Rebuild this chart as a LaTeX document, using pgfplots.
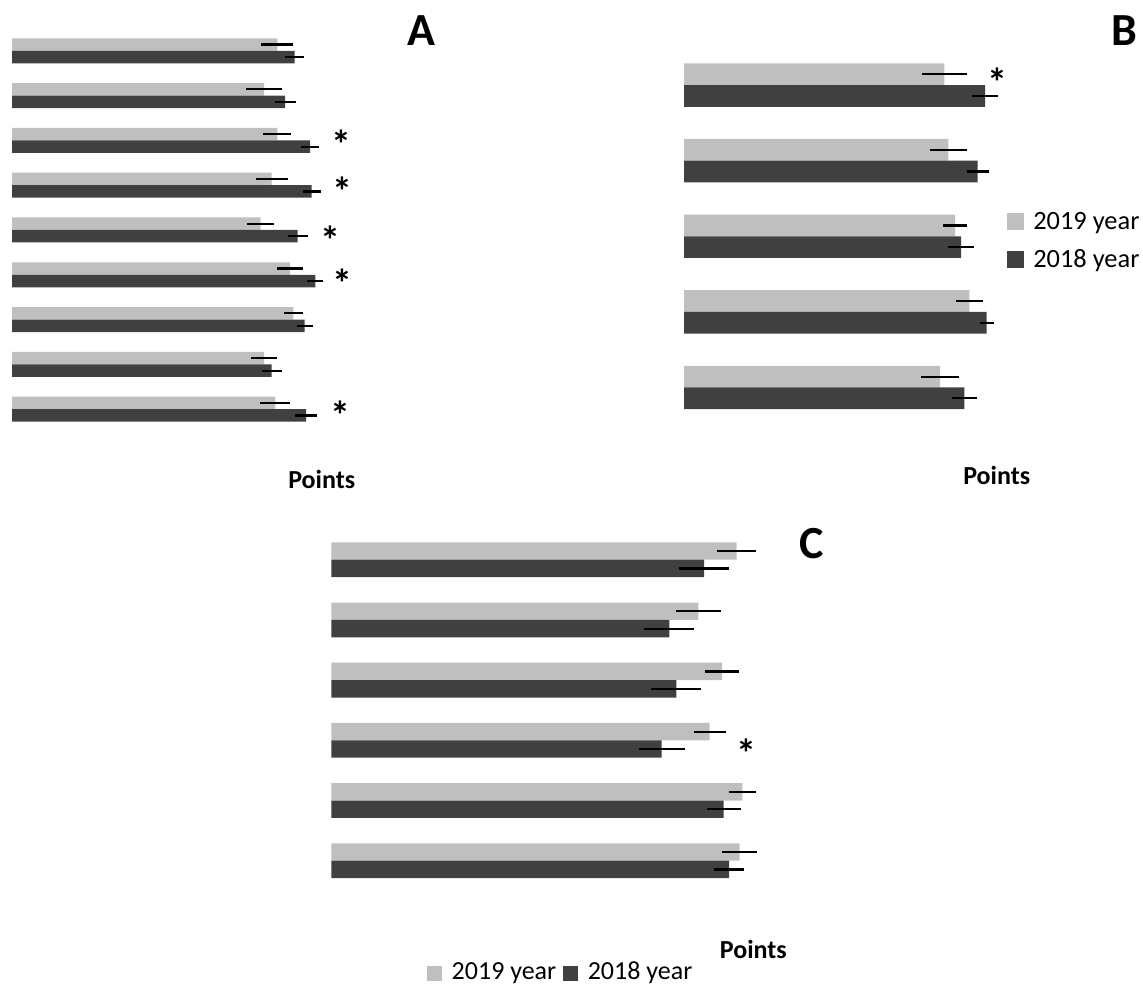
\documentclass[border=0pt]{standalone}
\usepackage{pgfplots}
\pgfplotsset{compat=1.18}
\usepackage{fontspec}
\setmainfont{Carlito}
\definecolor{lightbar}{HTML}{BFBFBF}
\definecolor{darkbar}{HTML}{404040}
\newcommand{\lab}{\fontsize{13}{15.6}\selectfont}
\newcommand{\labB}{\fontsize{13.2}{16}\selectfont}
\newcommand{\astfont}{\fontsize{20}{24}\selectfont\bfseries}
\newcommand{\panellet}{\fontsize{23}{27}\selectfont\bfseries}
\pgfplotsset{
  common/.style={x=0.5pt, y=0.5pt, y dir=reverse, hide axis, clip=false, scale only axis, anchor=north west, xmin=0},
  lb/.style={xbar, bar shift=0pt, fill=lightbar, draw=none,
    error bars/x dir=both, error bars/x explicit, error bars/error mark=none,
    error bars/error bar style={line width=1.1pt, black}},
  db/.style={xbar, bar shift=0pt, fill=darkbar, draw=none,
    error bars/x dir=both, error bars/x explicit, error bars/error mark=none,
    error bars/error bar style={line width=1.1pt, black}},
}
\begin{document}
\begin{tikzpicture}
\useasboundingbox (0,0) rectangle (571.5pt,-492.5pt);
% ---------------- Panel A ----------------
\begin{axis}[common, at={(6pt,-15pt)}, xmax=440, ymin=30, ymax=500, bar width=6.25pt]
\addplot[lb] coordinates {
 (265.3,44.5) +- (16,0)
 (252.0,89.3) +- (18,0)
 (265.3,134.1) +- (14,0)
 (259.7,178.9) +- (16,0)
 (248.7,223.7) +- (13.7,0)
 (278.0,268.5) +- (13,0)
 (281.3,313.3) +- (9.5,0)
 (252.0,358.1) +- (13,0)
 (263.3,402.9) +- (15,0)
};
\addplot[db] coordinates {
 (282.7,57.0) +- (9.3,0)
 (273.0,101.8) +- (10.5,0)
 (298.0,146.6) +- (9,0)
 (299.7,191.4) +- (9,0)
 (285.7,236.2) +- (10,0)
 (303.3,281.0) +- (8,0)
 (292.7,325.8) +- (8,0)
 (259.7,370.6) +- (10,0)
 (294.0,415.4) +- (10.7,0)
};
\node[anchor=base, inner sep=0pt, font=\astfont] at (axis cs:329.7,158.3) {*};
\node[anchor=base, inner sep=0pt, font=\astfont] at (axis cs:330.7,205.9) {*};
\node[anchor=base, inner sep=0pt, font=\astfont] at (axis cs:318.7,254.9) {*};
\node[anchor=base, inner sep=0pt, font=\astfont] at (axis cs:330.7,297.6) {*};
\node[anchor=base, inner sep=0pt, font=\astfont] at (axis cs:328.7,429.3) {*};
\node[anchor=base, inner sep=0pt, font=\panellet] at (axis cs:409.7,45) {A};
\node[anchor=base, inner sep=0pt, font=\lab\bfseries] at (axis cs:309.7,488) {Points};
\end{axis}
% ---------------- Panel B ----------------
\begin{axis}[common, at={(342pt,-25pt)}, xmax=460, ymin=50, ymax=500, bar width=10.85pt,
  legend image code/.code={\fill[#1] (0pt,-4pt) rectangle (8.6pt,4.5pt);},
  legend cell align=left,
  legend style={draw=none, fill=none, font=\labB, at={(axis cs:322.7,212)}, anchor=north west,
    inner sep=0pt, nodes={inner sep=0pt}, row sep=8.4pt,
    /tikz/every odd column/.append style={column sep=4.5pt}}]
\addplot[lb] coordinates {
 (260.3,74.2) +- (22.2,0)
 (264.3,149.8) +- (18.3,0)
 (271.0,225.4) +- (11.8,0)
 (285.3,301.0) +- (13.7,0)
 (256.0,376.6) +- (19.2,0)
};
\addlegendentry{2019 year}
\addplot[db] coordinates {
 (301.0,95.9) +- (13,0)
 (293.7,171.5) +- (11,0)
 (277.0,247.1) +- (13,0)
 (302.7,322.7) +- (6.8,0)
 (280.3,398.3) +- (12.5,0)
};
\addlegendentry{2018 year}
\node[anchor=base, inner sep=0pt, font=\astfont] at (axis cs:313.3,96.6) {*};
\node[anchor=base, inner sep=0pt, font=\panellet] at (axis cs:440,45) {B};
\node[anchor=base, inner sep=0pt, font=\lab\bfseries] at (axis cs:312.7,484.5) {Points};
\end{axis}
% ---------------- Panel C ----------------
\begin{axis}[common, at={(165.65pt,-265pt)}, xmax=500, ymin=530, ymax=980, bar width=8.7pt,
  legend image code/.code={\fill[#1] (0pt,-4.3pt) rectangle (7.5pt,3.2pt);},
  legend cell align=left,
  legend columns=2,
  legend style={draw=none, fill=none, font=\lab, at={(axis cs:95.4,961.5)}, anchor=north west,
    inner sep=0pt, nodes={inner sep=0pt},
    /tikz/every odd column/.append style={column sep=4.8pt},
    /tikz/every even column/.append style={column sep=3.5pt}}]
\addplot[lb] coordinates {
 (405.4,551.0) +- (19.3,0)
 (367.0,611.2) +- (22.8,0)
 (390.7,671.4) +- (17.3,0)
 (378.4,731.6) +- (16.2,0)
 (411.0,791.8) +- (13.8,0)
 (408.4,852.0) +- (17.5,0)
};
\addlegendentry{2019 year}
\addplot[db] coordinates {
 (372.7,568.4) +- (25,0)
 (338.0,628.6) +- (25,0)
 (345.0,688.8) +- (25,0)
 (330.4,749.0) +- (23,0)
 (392.4,809.2) +- (16.8,0)
 (397.7,869.4) +- (14.8,0)
};
\addlegendentry{2018 year}
\node[anchor=base, inner sep=0pt, font=\astfont] at (axis cs:415.4,767.6) {*};
\node[anchor=base, inner sep=0pt, font=\panellet] at (axis cs:480.4,558.3) {C};
\node[anchor=base, inner sep=0pt, font=\lab\bfseries] at (axis cs:422,958) {Points};
\end{axis}
\end{tikzpicture}
\end{document}
